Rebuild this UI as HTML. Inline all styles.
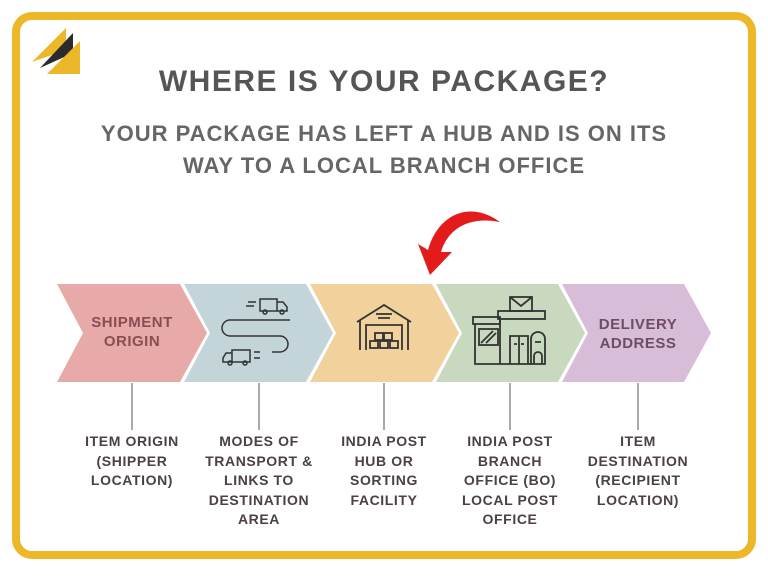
<!DOCTYPE html>
<html><head><meta charset="utf-8"><style>
html,body{margin:0;padding:0;background:#fff}
svg{display:block}
text{font-family:"Liberation Sans",sans-serif;font-weight:bold;text-anchor:middle}
</style></head><body>
<svg width="768" height="576" viewBox="0 0 768 576" xmlns="http://www.w3.org/2000/svg">
<rect x="0" y="0" width="768" height="576" fill="#fff"/>
<rect x="16" y="16" width="736" height="539" rx="16" fill="#fff" stroke="#ecb82a" stroke-width="8"/>
<!-- logo -->
<polygon points="66,28 66,50 32,62" fill="#ecb82a"/>
<polygon points="73,33 73,53 40,68" fill="#2b2b2b"/>
<polygon points="80,41 80,74 47,74" fill="#ecb82a"/>
<text x="384" y="91" font-size="30" letter-spacing="1.5" fill="#555">WHERE IS YOUR PACKAGE?</text>
<text x="384" y="141" font-size="22" letter-spacing="1" fill="#666">YOUR PACKAGE HAS LEFT A HUB AND IS ON ITS</text>
<text x="384" y="173" font-size="22" letter-spacing="1" fill="#666">WAY TO A LOCAL BRANCH OFFICE</text>
<!-- chevrons -->
<polygon points="57,284 180,284 207,333 180,382 57,382 83,333" fill="#e8a9a9"/>
<polygon points="184,284 306,284 333,333 306,382 184,382 210,333" fill="#c3d5d9"/>
<polygon points="310,284 432,284 459,333 432,382 310,382 336,333" fill="#f1d19c"/>
<polygon points="436,284 558,284 585,333 558,382 436,382 462,333" fill="#c8d9bf"/>
<polygon points="562,284 684,284 711,333 684,382 562,382 588,333" fill="#d7bdd8"/>
<text x="132" y="327" font-size="15" letter-spacing="0.5" fill="#8a4d52">SHIPMENT</text>
<text x="132" y="346" font-size="15" letter-spacing="0.5" fill="#8a4d52">ORIGIN</text>
<text x="638" y="329" font-size="15" letter-spacing="0.5" fill="#6e4c66">DELIVERY</text>
<text x="638" y="348" font-size="15" letter-spacing="0.5" fill="#6e4c66">ADDRESS</text>
<!-- transport icon -->
<g fill="none" stroke="#333" stroke-width="1.5">
<rect x="260" y="299" width="17" height="12"/><path d="M277,302 h6 l4,5 v4 h-10"/>
<circle cx="265" cy="312" r="2"/><circle cx="282" cy="312" r="2"/>
<path d="M248,302 h8 M246,306 h8 M290,320 h-60 a8,8 0 0 0 0,16 h50 a8,8 0 0 1 0,16 h-8"/>
<rect x="232" y="350" width="18" height="12"/><path d="M232,353 h-6 l-3,5 v4 h9"/>
<circle cx="230" cy="363" r="2"/><circle cx="245" cy="363" r="2"/>
<path d="M254,352 h6 M254,358 h6"/>
</g>
<!-- warehouse -->
<g fill="none" stroke="#333" stroke-width="1.8">
<path d="M357,322 l27,-17 l27,17 M360,320 v30 M408,320 v30 M366,350 v-25 h36 v25 M376,314 h16 M378,318 h12"/>
<rect x="375" y="333" width="8" height="7"/><rect x="384" y="333" width="8" height="7"/>
<rect x="370" y="341" width="8" height="7"/><rect x="380" y="341" width="8" height="7"/><rect x="390" y="341" width="8" height="7"/>
</g>
<!-- post office -->
<g fill="none" stroke="#333" stroke-width="1.8">
<rect x="510" y="297" width="22" height="14"/><path d="M510,297 l11,9 l11,-9"/>
<rect x="498" y="311" width="47" height="8"/><rect x="473" y="317" width="27" height="7"/>
<path d="M475,324 v40 h26 M500,319 v45 h32"/>
<rect x="479" y="329" width="19" height="16"/><path d="M481,343 l12,-12 M486,343 l10,-10"/>
<path d="M510,364 v-28 h18 v28 M519,336 v28 M514,344 h3 M521,344 h3"/>
<path d="M531,364 v-25 a7,7 0 0 1 14,0 v25 z M535,342 h6 M534,364 v-8 a4,4 0 0 1 8,0 v8"/>
</g>
<!-- red arrow -->
<path d="M500,222 C470,200 438,214 428,250 L418,244 L430,275 L452,252 L441,252 C448,228 470,216 500,222 Z" fill="#e31b1b"/>
<!-- connectors -->
<g stroke="#555" stroke-width="1">
<line x1="132" y1="383" x2="132" y2="430"/><line x1="259" y1="383" x2="259" y2="430"/>
<line x1="384" y1="383" x2="384" y2="430"/><line x1="510" y1="383" x2="510" y2="430"/>
<line x1="638" y1="383" x2="638" y2="430"/>
</g>
<g font-size="14" letter-spacing="0.6" fill="#4b4141">
<text x="132" y="446">ITEM ORIGIN</text><text x="132" y="466">(SHIPPER</text><text x="132" y="485">LOCATION)</text>
<text x="259" y="446">MODES OF</text><text x="259" y="466">TRANSPORT &amp;</text><text x="259" y="485">LINKS TO</text><text x="259" y="505">DESTINATION</text><text x="259" y="524">AREA</text>
<text x="384" y="446">INDIA POST</text><text x="384" y="466">HUB OR</text><text x="384" y="485">SORTING</text><text x="384" y="505">FACILITY</text>
<text x="510" y="446">INDIA POST</text><text x="510" y="466">BRANCH</text><text x="510" y="485">OFFICE (BO)</text><text x="510" y="505">LOCAL POST</text><text x="510" y="524">OFFICE</text>
<text x="638" y="446">ITEM</text><text x="638" y="466">DESTINATION</text><text x="638" y="485">(RECIPIENT</text><text x="638" y="505">LOCATION)</text>
</g>
</svg>
</body></html>
